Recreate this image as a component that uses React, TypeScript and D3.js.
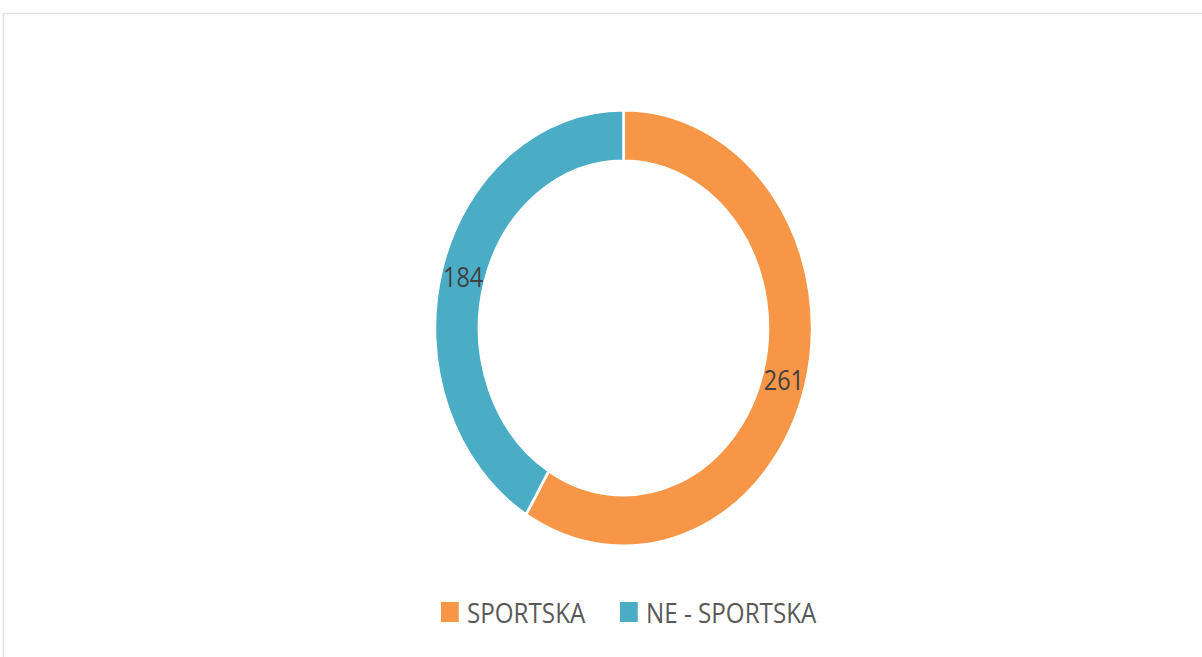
import React from "react";
import * as d3 from "d3";

const categories = ["SPORTSKA", "NE - SPORTSKA"];
const values = [261, 184];
const colors = ["#F79646", "#4BACC6"];

const W = 1202;
const H = 657;
const cx = 623.5;
const cy = 328;
const outerR = 218;
const innerR = 167;
const sx = 0.865;
const font = "'Open Sans', 'Noto Sans', sans-serif";

export default function App() {
  const pie = d3.pie<number>().sort(null).value((d) => d)(values);
  const arc = d3.arc<d3.PieArcDatum<number>>().innerRadius(innerR).outerRadius(outerR);
  const labelArc = d3
    .arc<d3.PieArcDatum<number>>()
    .innerRadius((innerR + outerR) / 2)
    .outerRadius((innerR + outerR) / 2);

  const legendX = d3.scalePoint<string>().domain(categories).range([0, 179]);
  const legendStart = 441 - cx;

  return (
    <svg
      width={W}
      height={H}
      style={{ position: "absolute", left: 0, top: 0, background: "#fff" }}
    >
      <rect x={3.5} y={13.5} width={W + 10} height={H + 10} fill="#fff" stroke="#e2e2e2" strokeWidth={1.5} />
      <g transform={`translate(${cx},0) scale(${sx},1)`}>
        <g transform={`translate(0,${cy})`}>
          {pie.map((p, i) => (
            <path key={i} d={arc(p) || ""} fill={colors[i]} stroke="#fff" strokeWidth={3} />
          ))}
          {pie.map((p, i) => {
            const [lx, ly] = labelArc.centroid(p);
            return (
              <text
                key={i}
                x={lx}
                y={ly}
                textAnchor="middle"
                dominantBaseline="central"
                fontFamily={font}
                fontSize={27}
                fill="#404040"
              >
                {values[i]}
              </text>
            );
          })}
        </g>
        <g transform={`translate(${legendStart / sx},612)`}>
          {categories.map((c, i) => {
            const x = (legendX(c) as number) / sx;
            return (
              <g key={c} transform={`translate(${x},0)`}>
                <rect x={0} y={-10} width={20.5} height={20} fill={colors[i]} />
                <text
                  x={30}
                  y={0}
                  dominantBaseline="central"
                  fontFamily={font}
                  fontSize={28}
                  fill="#595959"
                >
                  {c}
                </text>
              </g>
            );
          })}
        </g>
      </g>
    </svg>
  );
}
